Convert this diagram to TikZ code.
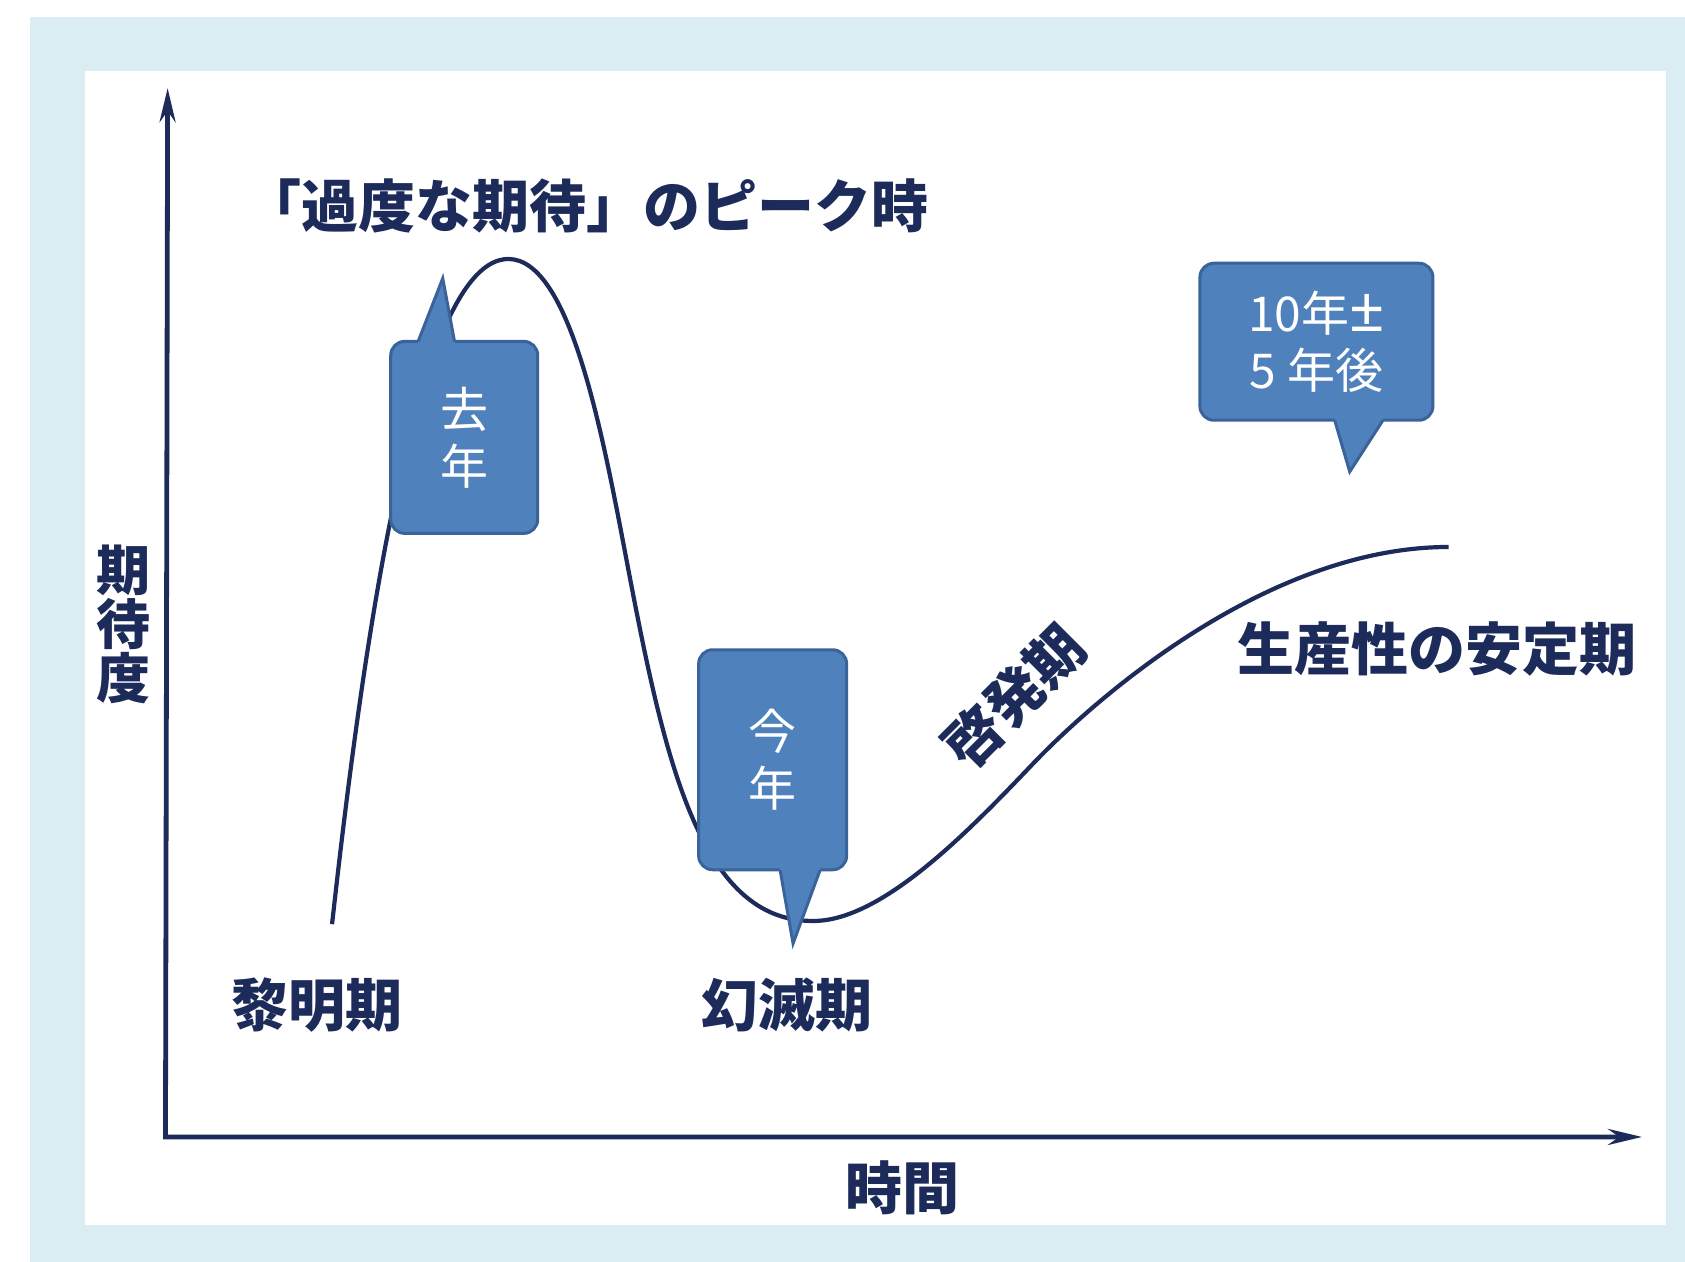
\documentclass[tikz,border=0pt]{standalone}
\usepackage{fontspec}
\setmainfont{Noto Sans CJK JP}
\newfontfamily\latinfont{Noto Sans}
\usetikzlibrary{arrows.meta,calc}
\definecolor{navy}{HTML}{1C2B5A}
\definecolor{bgblue}{HTML}{DAEDF2}
\definecolor{callfill}{HTML}{4F81BD}
\definecolor{callline}{HTML}{3A639A}
\begin{document}
\begin{tikzpicture}[x=1.0746pt,y=-1.0746pt,
  lbl/.style={text=navy, font=\bfseries\fontsize{57}{60}\selectfont, inner sep=0pt},
  callbox/.style={fill=callfill, draw=callline, line width=3pt, rounded corners=14pt,
    text=white, align=center, font=\fontsize{48}{57}\selectfont, inner sep=0pt},
  ptrfill/.style={fill=callfill},
  ptrline/.style={draw=callline, line width=3pt, line join=miter},
  axisline/.style={draw=navy, line width=4.8pt, line join=miter},
  curveline/.style={draw=navy, line width=4.2pt}]
\useasboundingbox (0,0) rectangle (1568,1174);
% backgrounds
\fill[bgblue] (28,16) rectangle (1568,1174);
\fill[white] (79,66) rectangle (1550,1140);
% axes
\coordinate (Ytop) at (156,82);
\coordinate (O) at (154,1058);
\coordinate (Xend) at (1528,1058);
\draw[axisline, {Stealth[length=34pt,width=16pt]}-{Stealth[length=34pt,width=16pt]}] (Ytop) -- (O) -- (Xend);
% hype curve
\coordinate (cStart) at (309,860);
\coordinate (cPeak) at (473,241);
\coordinate (cFall) at (583,521);
\coordinate (cTrough) at (757,857);
\coordinate (cRise) at (960,712);
\coordinate (cEnd) at (1348,509);
\draw[curveline] (cStart) .. controls (340,580) and (390,241) .. (cPeak)
  .. controls (530,241) and (560,400) .. (cFall)
  .. controls (617.5,702.5) and (650,858) .. (cTrough)
  .. controls (820,857) and (900,775) .. (cRise)
  .. controls (1020,649) and (1180,509) .. (cEnd);
% callout 1
\node[callbox, minimum width=147pt, minimum height=192pt] (c1) at (432,407) {去\\年};
\coordinate (c1a) at (389,318); \coordinate (c1b) at (423,318); \coordinate (c1t) at (412,259);
\fill[ptrfill] ($(c1a)+(0,6)$) -- ($(c1a)+(0,-1)$) -- (c1t) -- ($(c1b)+(0,-1)$) -- ($(c1b)+(0,6)$) -- cycle;
\draw[ptrline] (c1a) -- (c1t) -- (c1b);
% callout 2
\node[callbox, minimum width=148pt, minimum height=220pt] (c2) at (719,707) {今\\年};
\coordinate (c2a) at (726,810); \coordinate (c2b) at (763,810); \coordinate (c2t) at (738,878);
\fill[ptrfill] ($(c2a)+(0,-6)$) -- ($(c2a)+(0,1)$) -- (c2t) -- ($(c2b)+(0,1)$) -- ($(c2b)+(0,-6)$) -- cycle;
\draw[ptrline] (c2a) -- (c2t) -- (c2b);
% callout 3
\node[callbox, minimum width=233pt, minimum height=157pt] (c3) at (1225,318) {10年{\latinfont\fontsize{62}{57}\selectfont ±}\\5 年後};
\coordinate (c3a) at (1242,391); \coordinate (c3b) at (1287,391); \coordinate (c3t) at (1256,439);
\fill[ptrfill] ($(c3a)+(0,-6)$) -- ($(c3a)+(0,1)$) -- (c3t) -- ($(c3b)+(0,1)$) -- ($(c3b)+(0,-6)$) -- cycle;
\draw[ptrline] (c3a) -- (c3t) -- (c3b);
% labels
\node[lbl] (peak) at (546,192) {「過度な期待」のピーク時};
\node[lbl] (dawn) at (295,935) {黎明期};
\node[lbl] (trough) at (732,935) {幻滅期};
\node[lbl, rotate=45] (slope) at (944,648) {啓発期};
\node[lbl] (plateau) at (1337,604) {生産性の安定期};
\node[lbl, align=center, font=\bfseries\fontsize{54}{54}\selectfont] (ylab) at (115,581) {期\\待\\度};
\node[lbl] (xlab) at (840,1105) {時間};
\end{tikzpicture}
\end{document}
